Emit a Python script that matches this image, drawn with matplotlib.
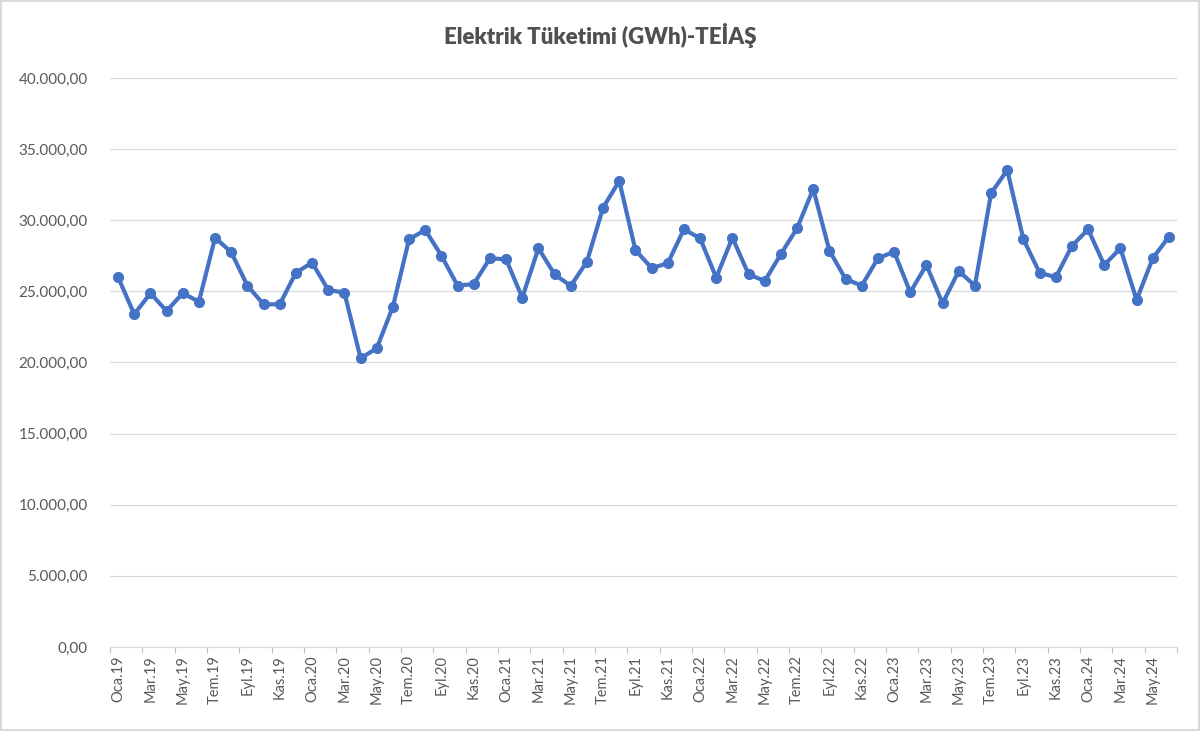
import matplotlib
matplotlib.use('Agg')
import matplotlib.pyplot as plt
from matplotlib.ticker import FuncFormatter, FixedLocator

# monthly consumption, Jan 2019 - Jun 2024
ay_adlari = ['Oca', 'Şub', 'Mar', 'Nis', 'May', 'Haz', 'Tem', 'Ağu', 'Eyl', 'Eki', 'Kas', 'Ara']
yillar = ['19', '20', '21', '22', '23', '24']

tuketim_2019 = [26000, 23390, 24870, 23620, 24870, 24275, 28775, 27750, 25400, 24090, 24090, 26315]
tuketim_2020 = [27020, 25100, 24910, 20295, 21000, 23925, 28660, 29315, 27510, 25400, 25520, 27325]
tuketim_2021 = [27255, 24556, 28030, 26200, 25380, 27090, 30885, 32760, 27910, 26640, 26975, 29365]
tuketim_2022 = [28730, 25965, 28775, 26200, 25730, 27630, 29435, 32200, 27860, 25870, 25400, 27325]
tuketim_2023 = [27790, 24935, 26855, 24160, 26430, 25400, 31895, 33530, 28660, 26315, 25990, 28190]
tuketim_2024 = [29365, 26855, 28030, 24395, 27325, 28845]

values = tuketim_2019 + tuketim_2020 + tuketim_2021 + tuketim_2022 + tuketim_2023 + tuketim_2024
labels = [ay_adlari[i % 12] + '.' + yillar[i // 12] for i in range(len(values))]
x = list(range(len(values)))

plt.rcParams['font.family'] = ['Lato', 'DejaVu Sans']

fig = plt.figure(figsize=(12, 7.31), dpi=100)
fig.patch.set_edgecolor('#d9d9d9')
fig.patch.set_linewidth(1.5)
ax = fig.add_axes([110/1200, 1 - 647/731, (1177-110)/1200, (647-78)/731])

ax.plot(x, values, color='#4472C4', linewidth=3.0, marker='o', markersize=7,
        zorder=3, solid_capstyle='round', solid_joinstyle='round')

ax.set_xlim(-0.5, len(values) - 0.5)
ax.set_ylim(0, 40000)
ax.set_yticks(range(0, 40001, 5000))

def tr_format(v, pos):
    s = '{:,.2f}'.format(v)
    return s.replace(',', 'X').replace('.', ',').replace('X', '.')

ax.yaxis.set_major_formatter(FuncFormatter(tr_format))
ax.grid(axis='y', color='#d9d9d9', linewidth=0.9, zorder=0)

# tick marks between every second category, labels on category centers
ax.xaxis.set_major_locator(FixedLocator([i - 0.5 for i in range(0, len(values) + 1, 2)]))
ax.xaxis.set_minor_locator(FixedLocator(x[::2]))
ax.set_xticklabels([], minor=False)
ax.set_xticklabels(labels[::2], minor=True, rotation=90)
ax.tick_params(axis='x', which='major', length=4, color='#bfbfbf', width=0.8)
ax.tick_params(axis='x', which='minor', length=0, pad=6, labelsize=10.5, labelcolor='#595959')
ax.tick_params(axis='y', length=0, pad=16, labelsize=11, labelcolor='#595959')

for side in ['top', 'right', 'left']:
    ax.spines[side].set_visible(False)
ax.spines['bottom'].set_color('#d9d9d9')
ax.spines['bottom'].set_linewidth(0.9)

fig.text(0.5, 1 - 36/731, 'Elektrik Tüketimi (GWh)-TEİAŞ', ha='center', va='center',
         fontsize=16, fontweight='heavy', color='#505050')

fig.savefig('out.png', dpi=100, edgecolor=fig.get_edgecolor())
